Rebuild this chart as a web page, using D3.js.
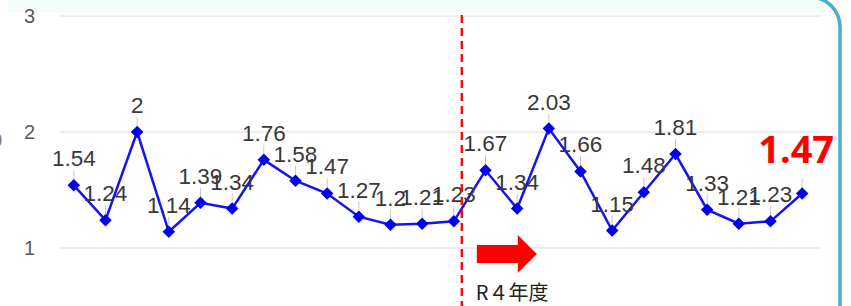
<!DOCTYPE html>
<html>
<head>
<meta charset="utf-8">
<script src="https://cdn.jsdelivr.net/npm/d3@7"></script>
<style>
  html, body { margin: 0; padding: 0; background: #fff; overflow: hidden; }
  svg { display: block; }
</style>
</head>
<body>
<svg id="chart" width="851" height="306"></svg>
<script>
// monthly values, R3 -> R4
var months = ['R3.3','R3.4','R3.5','R3.6','R3.7','R3.8','R3.9','R3.10','R3.11','R3.12','R4.1','R4.2','R4.3',
              'R4.4','R4.5','R4.6','R4.7','R4.8','R4.9','R4.10','R4.11','R4.12','R5.1','R5.2'];
var values = [1.54, 1.24, 2, 1.14, 1.39, 1.34, 1.76, 1.58, 1.47, 1.27, 1.2, 1.21, 1.23,
              1.67, 1.34, 2.03, 1.66, 1.15, 1.48, 1.81, 1.33, 1.21, 1.23, 1.47];
var yTicks = [1, 2, 3];
var splitAfter = 'R4.3';       // dashed line placed after this month
var periodLabel = 'R４年度';

var svg = d3.select('#chart');

var x = d3.scaleBand().domain(months).range([58, 818]);
var y = d3.scaleLinear().domain([1, 3]).range([248, 16]);
var cx = function(m){ return x(m) + x.bandwidth() / 2; };

// pale strip on top
svg.append('rect')
	.attr('x', 8).attr('y', 0).attr('width', 815).attr('height', 12)
	.attr('fill', '#f4fcf9');

// grid
svg.append('g').selectAll('line')
	.data(yTicks).enter().append('line')
	.attr('x1', 60).attr('x2', 820)
	.attr('y1', function(d){ return y(d); })
	.attr('y2', function(d){ return y(d); })
	.attr('stroke', '#ededed')
	.attr('stroke-width', 2);

// y axis labels
var yAxis = d3.axisLeft(y).tickValues(yTicks).tickSize(0).tickPadding(0).tickFormat(d3.format('d'));
var ag = svg.append('g').attr('transform', 'translate(35,0)').call(yAxis);
ag.select('.domain').remove();
ag.selectAll('text')
	.attr('font-family', 'Liberation Sans, Arial, sans-serif')
	.attr('font-size', 20)
	.attr('fill', '#5a5a5a');

// cut-off glyph at the left edge
svg.append('text')
	.attr('x', -9).attr('y', 147)
	.attr('font-family', 'Liberation Sans, Arial, sans-serif')
	.attr('font-size', 20).attr('fill', '#777')
	.text('0');

// leader ticks
svg.append('g').selectAll('line')
	.data(months).enter().append('line')
	.attr('x1', function(d){ return cx(d); })
	.attr('x2', function(d){ return cx(d); })
	.attr('y1', function(d, i){ return y(values[i]) - 15; })
	.attr('y2', function(d, i){ return y(values[i]) - 6; })
	.attr('stroke', '#c8c8c8')
	.attr('stroke-width', 1);

// line
var line = d3.line()
	.x(function(d, i){ return cx(months[i]); })
	.y(function(d){ return y(d); });
svg.append('path')
	.datum(values)
	.attr('d', line)
	.attr('fill', 'none')
	.attr('stroke', '#1414f0')
	.attr('stroke-width', 2.5);

// diamonds
svg.append('g').selectAll('path')
	.data(values).enter().append('path')
	.attr('d', d3.symbol().type(d3.symbolDiamond2).size(100))
	.attr('transform', function(d, i){ return 'translate(' + cx(months[i]) + ',' + y(d) + ')'; })
	.attr('fill', '#0000ee');

// value labels (last one is highlighted separately)
svg.append('g').selectAll('text')
	.data(values.slice(0, values.length - 1)).enter().append('text')
	.attr('x', function(d, i){ return cx(months[i]); })
	.attr('y', function(d){ return y(d) - 19; })
	.attr('text-anchor', 'middle')
	.attr('font-family', 'Liberation Sans, Arial, sans-serif')
	.attr('font-size', 22.5)
	.attr('fill', '#383838')
	.text(function(d){ return String(d); });

var last = values.length - 1;
svg.append('text')
	.attr('x', cx(months[last]) - 6)
	.attr('y', y(values[last]) - 30)
	.attr('text-anchor', 'middle')
	.attr('font-family', 'Noto Sans, sans-serif')
	.attr('font-weight', 'bold')
	.attr('font-size', 38)
	.attr('fill', '#ff0000')
	.text(String(values[last]));

// split line
var sx = cx(splitAfter) + 8;
svg.append('line')
	.attr('x1', sx).attr('x2', sx)
	.attr('y1', 15).attr('y2', 306)
	.attr('stroke', '#ee1111')
	.attr('stroke-width', 2.5)
	.attr('stroke-dasharray', '8,5');

// arrow
var ax = sx + 15;
svg.append('path')
	.attr('d', 'M' + ax + ',245 h41 v-10 l19,19 l-19,19 v-10 h-41 z')
	.attr('fill', '#ff0000');

svg.append('text')
	.attr('x', ax - 1).attr('y', 300)
	.attr('font-family', 'Noto Sans CJK JP, sans-serif')
	.attr('font-size', 20)
	.attr('fill', '#222')
	.text(periodLabel);

// rounded frame
svg.append('rect')
	.attr('x', -30).attr('y', -3)
	.attr('width', 870).attr('height', 400)
	.attr('rx', 30)
	.attr('fill', 'none')
	.attr('stroke', '#4aaec6')
	.attr('stroke-width', 3.5);
</script>
</body>
</html>
